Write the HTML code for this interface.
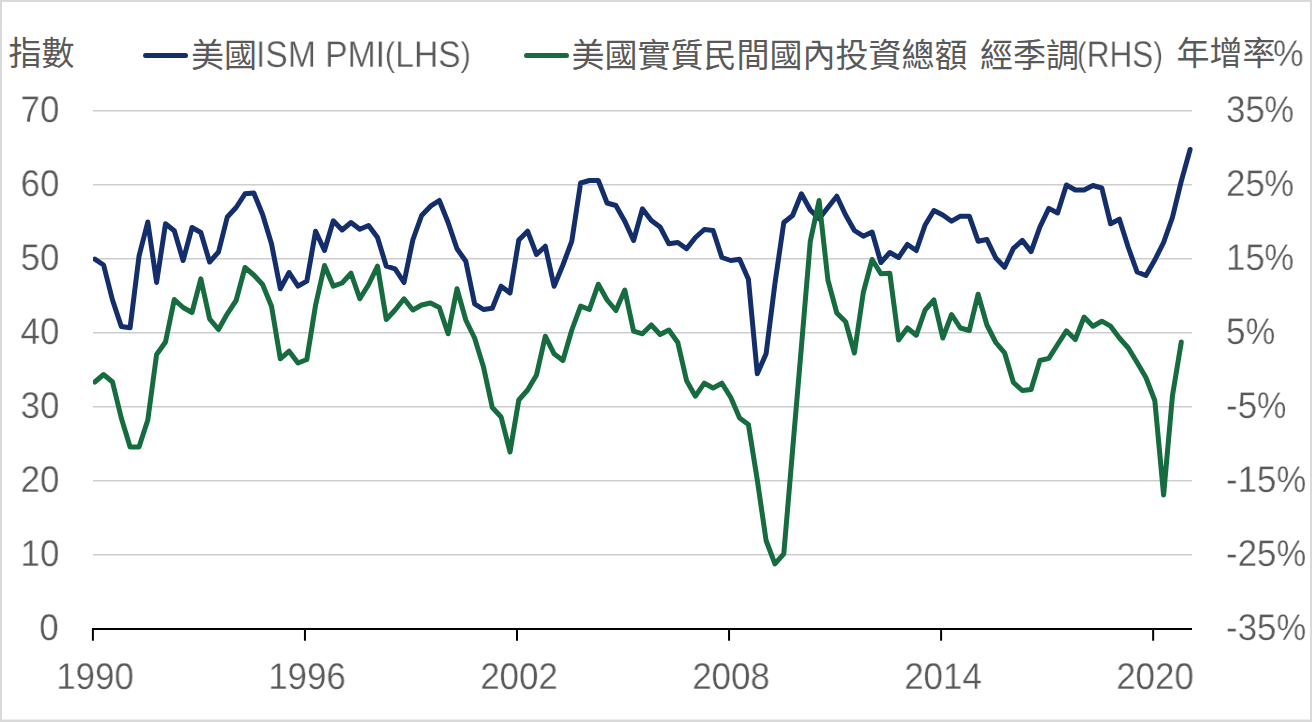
<!DOCTYPE html>
<html lang="zh-Hant">
<head>
<meta charset="utf-8">
<title>美國ISM PMI 與 美國實質民間國內投資總額</title>
<style>
html,body{margin:0;padding:0;background:#fff;}
#chart{position:relative;width:1312px;height:722px;box-sizing:border-box;border:2px solid #d9d9d9;background:#fff;overflow:hidden;font-family:"Liberation Sans",sans-serif;color:#595959;}
#chart svg{position:absolute;left:-2px;top:-2px;width:1312px;height:722px;}
.t{position:absolute;will-change:transform;text-rendering:geometricPrecision;-webkit-text-stroke:0.3px #fff;white-space:nowrap;font-size:37.2px;line-height:37.2px;height:37.2px;}
.yl{text-align:right;transform:scaleX(0.937);transform-origin:right center;}
.yr{text-align:left;transform:scaleX(0.937);transform-origin:left center;}
.xl{text-align:center;transform:scaleX(0.937);transform-origin:center center;}
.pr{font-size:0.92em;position:relative;top:-1.4px;}
.pc{display:inline-block;transform:scaleX(0.95);transform-origin:left center;}
.lg{text-align:left;transform:scaleX(0.88);transform-origin:left center;}
.cjk{font-family:"Liberation Sans","Noto Sans CJK TC",sans-serif;font-size:33px;fill:#595959;}
</style>
</head>
<body>
<div id="chart">
<svg width="1312" height="722" viewBox="0 0 1312 722">
<line x1="93" y1="110.80" x2="1192" y2="110.80" stroke="#cdcdcd" stroke-width="1.5"/>
<line x1="93" y1="184.80" x2="1192" y2="184.80" stroke="#cdcdcd" stroke-width="1.5"/>
<line x1="93" y1="258.80" x2="1192" y2="258.80" stroke="#cdcdcd" stroke-width="1.5"/>
<line x1="93" y1="332.80" x2="1192" y2="332.80" stroke="#cdcdcd" stroke-width="1.5"/>
<line x1="93" y1="406.80" x2="1192" y2="406.80" stroke="#cdcdcd" stroke-width="1.5"/>
<line x1="93" y1="480.80" x2="1192" y2="480.80" stroke="#cdcdcd" stroke-width="1.5"/>
<line x1="93" y1="554.80" x2="1192" y2="554.80" stroke="#cdcdcd" stroke-width="1.5"/>
<rect x="2" y="719" width="1308" height="1" fill="#ececec"/>
<line x1="92" y1="629.1" x2="1192" y2="629.1" stroke="#000" stroke-width="2"/>
<line x1="92.90" y1="629" x2="92.90" y2="640.7" stroke="#000" stroke-width="2"/>
<line x1="304.95" y1="629" x2="304.95" y2="640.7" stroke="#000" stroke-width="2"/>
<line x1="517.00" y1="629" x2="517.00" y2="640.7" stroke="#000" stroke-width="2"/>
<line x1="729.05" y1="629" x2="729.05" y2="640.7" stroke="#000" stroke-width="2"/>
<line x1="941.10" y1="629" x2="941.10" y2="640.7" stroke="#000" stroke-width="2"/>
<line x1="1153.15" y1="629" x2="1153.15" y2="640.7" stroke="#000" stroke-width="2"/>
<clipPath id="plot"><rect x="93" y="90" width="1110" height="560"/></clipPath><g clip-path="url(#plot)">
<polyline fill="none" stroke="#132e6a" stroke-width="5" stroke-linejoin="round" stroke-linecap="round" points="94.8,259.2 103.6,265.0 112.5,300.0 121.3,326.5 130.1,327.8 139.0,256.2 147.8,222.0 156.6,282.5 165.5,223.8 174.3,230.8 183.1,260.5 192.0,227.5 200.8,232.5 209.6,262.0 218.5,252.0 227.3,217.0 236.1,207.5 245.0,193.8 253.8,193.0 262.6,214.5 271.5,243.8 280.3,288.8 289.1,272.5 298.0,286.2 306.8,281.2 315.6,231.2 324.5,250.5 333.3,220.8 342.1,230.0 351.0,222.5 359.8,229.2 368.6,225.5 377.5,237.5 386.3,266.2 395.1,268.8 404.0,282.5 412.8,240.0 421.6,215.5 430.5,206.2 439.3,200.5 448.1,222.5 457.0,248.8 465.8,261.2 474.6,303.8 483.5,309.5 492.3,308.2 501.1,286.2 510.0,293.0 518.8,240.0 527.6,231.2 536.5,254.5 545.3,246.2 554.1,286.2 562.9,265.0 571.8,241.2 580.6,183.0 589.4,180.5 598.3,180.5 607.1,203.0 615.9,205.5 624.8,221.2 633.6,240.5 642.4,208.8 651.3,220.5 660.1,227.0 668.9,243.8 677.8,242.5 686.6,248.8 695.4,237.5 704.3,229.5 713.1,230.5 721.9,257.5 730.8,260.5 739.6,259.2 748.4,279.2 757.3,373.8 766.1,353.8 774.9,283.8 783.8,222.5 792.6,215.5 801.4,193.8 810.3,210.0 819.1,218.8 827.9,207.5 836.8,196.2 845.6,215.0 854.4,230.5 863.3,236.2 872.1,232.0 880.9,262.5 889.8,252.5 898.6,257.5 907.4,244.5 916.3,250.5 925.1,225.0 933.9,210.5 942.8,215.0 951.6,221.2 960.4,216.2 969.3,216.2 978.1,241.2 986.9,239.5 995.8,258.0 1004.6,267.2 1013.4,248.4 1022.3,240.4 1031.1,251.6 1039.9,227.0 1048.8,208.4 1057.6,213.0 1066.4,185.0 1075.3,190.0 1084.1,190.0 1092.9,185.5 1101.8,188.0 1110.6,223.8 1119.4,219.2 1128.3,247.5 1137.1,272.0 1145.9,275.5 1154.8,260.0 1163.6,242.5 1172.4,217.5 1181.3,181.2 1190.1,149.5"/>
<polyline fill="none" stroke="#166c3f" stroke-width="5" stroke-linejoin="round" stroke-linecap="round" points="94.8,382.0 103.6,374.5 112.5,382.0 121.3,418.0 130.1,447.0 139.0,447.0 147.8,420.0 156.6,354.5 165.5,342.0 174.3,299.5 183.1,307.5 192.0,312.5 200.8,278.8 209.6,318.8 218.5,329.5 227.3,313.8 236.1,300.5 245.0,267.5 253.8,275.0 262.6,284.5 271.5,306.2 280.3,358.8 289.1,351.2 298.0,363.0 306.8,359.5 315.6,305.0 324.5,265.5 333.3,286.2 342.1,283.0 351.0,273.2 359.8,298.8 368.6,284.5 377.5,266.2 386.3,319.5 395.1,310.0 404.0,298.8 412.8,310.0 421.6,305.0 430.5,303.0 439.3,307.5 448.1,333.8 457.0,288.8 465.8,320.0 474.6,338.0 483.5,367.0 492.3,407.5 501.1,417.0 510.0,452.0 518.8,400.0 527.6,390.0 536.5,375.0 545.3,336.2 554.1,353.8 562.9,360.5 571.8,330.0 580.6,306.2 589.4,309.5 598.3,284.2 607.1,300.0 615.9,310.5 624.8,290.0 633.6,331.2 642.4,333.8 651.3,325.0 660.1,334.5 668.9,330.0 677.8,342.5 686.6,380.8 695.4,396.2 704.3,383.2 713.1,388.0 721.9,383.2 730.8,397.5 739.6,418.0 748.4,424.5 757.3,480.0 766.1,540.5 774.9,563.8 783.8,553.8 792.6,450.0 801.4,347.0 810.3,241.2 819.1,200.5 827.9,280.0 836.8,313.0 845.6,321.8 854.4,353.0 863.3,292.5 872.1,259.5 880.9,273.8 889.8,273.2 898.6,340.0 907.4,328.0 916.3,335.2 925.1,310.0 933.9,300.0 942.8,338.0 951.6,314.5 960.4,328.0 969.3,330.5 978.1,294.2 986.9,325.0 995.8,342.5 1004.6,352.8 1013.4,382.5 1022.3,390.5 1031.1,389.4 1039.9,360.5 1048.8,358.4 1057.6,344.5 1066.4,330.8 1075.3,339.5 1084.1,317.0 1092.9,326.2 1101.8,321.2 1110.6,326.2 1119.4,338.0 1128.3,348.0 1137.1,362.5 1145.9,377.5 1154.8,400.5 1163.6,495.0 1172.4,396.2 1181.3,342.0"/>
</g>
<line x1="145.6" y1="55.4" x2="185.5" y2="55.4" stroke="#132e6a" stroke-width="5" stroke-linecap="round"/>
<line x1="526.5" y1="55.4" x2="566.5" y2="55.4" stroke="#166c3f" stroke-width="5" stroke-linecap="round"/>
<text class="cjk" x="8.5" y="65">指數</text>
<text class="cjk" x="191" y="66.5">美國</text>
<text class="cjk" x="571.5" y="66.5">美國實質民間國內投資總額</text>
<text class="cjk" x="980" y="66.5">經季調</text>
<text class="cjk" x="1176.5" y="64.5">年增率</text>
</svg>
<div class="t yl" style="right:1250.9px;top:89.1px">70</div>
<div class="t yl" style="right:1250.9px;top:163.1px">60</div>
<div class="t yl" style="right:1250.9px;top:237.1px">50</div>
<div class="t yl" style="right:1250.9px;top:311.1px">40</div>
<div class="t yl" style="right:1250.9px;top:385.1px">30</div>
<div class="t yl" style="right:1250.9px;top:459.1px">20</div>
<div class="t yl" style="right:1250.9px;top:533.1px">10</div>
<div class="t yl" style="right:1250.9px;top:607.1px">0</div>
<div class="t yr" style="left:1223.9px;top:88.9px">35<span class="pc">%</span></div>
<div class="t yr" style="left:1223.9px;top:162.9px">25<span class="pc">%</span></div>
<div class="t yr" style="left:1223.9px;top:236.9px">15<span class="pc">%</span></div>
<div class="t yr" style="left:1223.9px;top:310.9px">5<span class="pc">%</span></div>
<div class="t yr" style="left:1223.9px;top:384.9px">-5<span class="pc">%</span></div>
<div class="t yr" style="left:1223.9px;top:458.9px">-15<span class="pc">%</span></div>
<div class="t yr" style="left:1223.9px;top:532.9px">-25<span class="pc">%</span></div>
<div class="t yr" style="left:1223.9px;top:606.9px">-35<span class="pc">%</span></div>
<div class="t xl" style="left:33.1px;width:120px;top:656.4px">1990</div>
<div class="t xl" style="left:245.1px;width:120px;top:656.4px">1996</div>
<div class="t xl" style="left:457.2px;width:120px;top:656.4px">2002</div>
<div class="t xl" style="left:669.3px;width:120px;top:656.4px">2008</div>
<div class="t xl" style="left:881.3px;width:120px;top:656.4px">2014</div>
<div class="t xl" style="left:1093.3px;width:120px;top:656.4px">2020</div>
<div class="t lg" style="left:254.0px;top:34.4px;transform:scaleX(0.904)">ISM PMI<span class="pr">(</span>LHS<span class="pr">)</span></div>
<div class="t lg" style="left:1074.8px;top:34.4px;transform:scaleX(0.848)"><span class="pr">(</span>RHS<span class="pr">)</span></div>
<div class="t lg" style="left:1270.6px;top:33.2px;transform:scaleX(0.922)">%</div>
</div>
</body>
</html>
